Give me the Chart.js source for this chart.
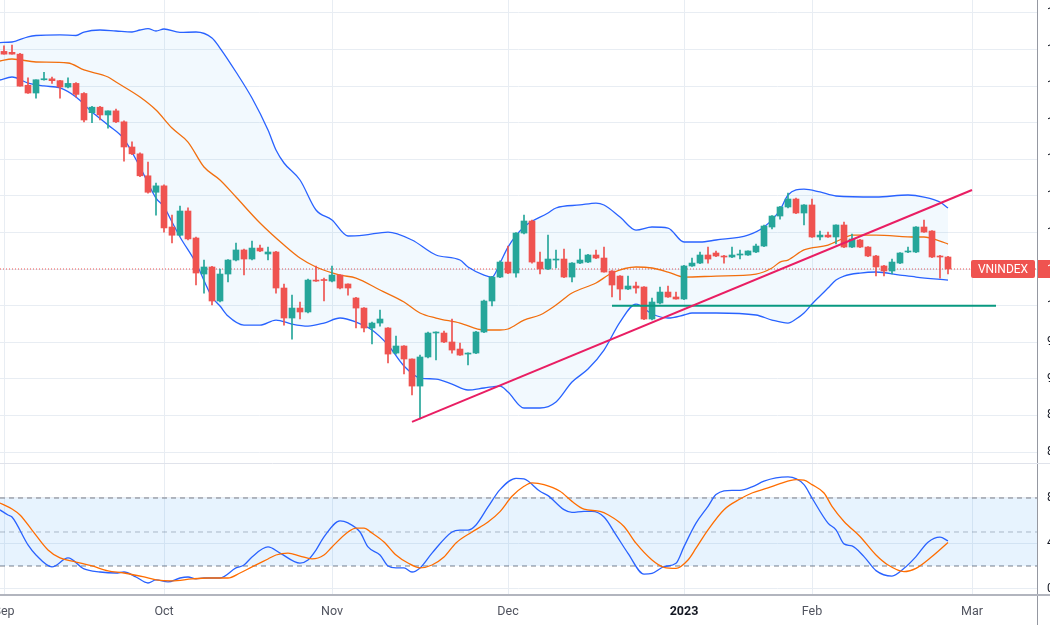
<!DOCTYPE html>
<html>
<head>
<meta charset="utf-8">
<script src="https://cdn.jsdelivr.net/npm/chart.js@4.4.0/dist/chart.umd.min.js"></script>
<style>
  html, body { margin: 0; padding: 0; background: #fff; overflow: hidden; }
  #wrap { position: relative; width: 1050px; height: 630px; overflow: hidden; }
  #main { position: absolute; left: 0; top: 0; }
  #stoch { position: absolute; left: 0; top: 464px; }
</style>
</head>
<body>
<div id="wrap">
  <canvas id="main" width="1090" height="464"></canvas>
  <canvas id="stoch" width="1090" height="166"></canvas>
</div>
<script>
// nến ngày VNINDEX, chỉ số 0 = 05/09/2022
const opens = [1278,1277,1275,1241,1232.5,1247,1248,1246,1239,1243,1232,1211,1217,1208.5,1213,1201,1173.5,1166,1142,1124,
  1131,1086,1077,1103.5,1074,1034.6,1042.3,1005.1,1034.6,1049.9,1060.9,1051,1063,1056.5,1058.7,1019.3,986.5,997.4,993.1,1028,
  1028,1026.9,1033.5,1023.7,1008.4,997.4,975.6,981,975.6,948.2,955.9,941.7,912.1,943.9,970.1,970.1,960.3,952.6,947.1,948.2,
  971.2,1005.1,1031.3,1047.7,1035.7,1079.4,1092.6,1047.7,1040.1,1049.9,1051,1031.3,1046.6,1047.7,1055.4,1052.1,1037.9,1032.4,1018.2,1021.5,
  1020.4,985.4,1002.9,1014.9,1009.5,1007.3,1043.4,1046.6,1055.4,1057.6,1054.3,1053.2,1055.4,1055.4,1058.7,1065.2,1086,1098,1107.9,1116.6,
  1101.3,1110.1,1075.1,1077.2,1075.1,1088.2,1064.1,1071.8,1064.1,1054.3,1043.4,1037.9,1046.6,1058.7,1058.7,1086,1081.6,1054.3,1053.2];
const highs = [1284,1285,1276,1249,1247,1255,1250,1246.5,1249,1244,1233,1218,1218,1213,1215,1202,1179,1167,1157,1134,
  1132,1099,1109,1107,1075,1049.9,1043,1040.1,1050.5,1068.5,1062,1070.7,1066.3,1064.1,1059.5,1023.7,1011.6,1004,1029,1043.4,
  1030.2,1043.4,1034,1024,1009,998,982,995.2,976,966.8,956.5,942,946,971,971.5,972.3,985.4,959.2,948.5,972,
  1006,1032,1049,1065.2,1080,1099.1,1093.5,1058.7,1077.2,1060.9,1061.9,1047,1061.9,1056,1060.9,1064.1,1038.5,1033,1032.4,1025.9,
  1021,1008.4,1020.4,1021.5,1014.9,1044,1052.1,1058.7,1064.1,1059.8,1055,1064.1,1060.9,1060,1067.4,1088,1098.5,1108.5,1123.2,1117.5,
  1110.5,1116.6,1081.6,1080.5,1088.5,1091.5,1078.3,1072.5,1064.5,1055,1044,1051,1058,1064.1,1086.5,1093.7,1082,1055,1054];
const lows = [1275,1275,1240,1232,1227,1246.5,1243,1227,1238,1228,1201,1200,1203,1194,1200,1158,1165,1141,1123,1099,
  1080.5,1068.5,1076,1072,1022.6,1013.8,1000.7,1004,1025.9,1049,1033.5,1050,1059,1049.9,1013.8,978.8,963.5,985.4,992,1026.5,
  1005.1,1026,1018.2,1011.6,975.6,971.2,958.1,977.7,937.3,947,925.3,902.3,876.1,943,940.6,959.5,948.2,945.5,935.1,947.5,
  970.5,999.6,1030.5,1035,1031.3,1078.5,1046.5,1034.6,1039.5,1041.2,1030.5,1025.9,1046,1047,1051.5,1036.5,1009.5,1006.2,1017.5,1013.8,
  984.8,984.5,1002,1009,1007,1006.5,1043,1046,1046.6,1053.5,1046.6,1052.5,1051,1055,1058,1064.5,1083.8,1094.7,1107,1100.5,
  1088.2,1074.5,1071.8,1074.5,1067.4,1063.5,1063.5,1063.5,1053.5,1032.4,1032.4,1034.6,1046,1058,1058,1080,1052.5,1030.2,1034.6];
const closes = [1275,1275,1240,1232.5,1247,1248,1246,1239,1243,1231,1203,1217,1208.5,1213,1201,1173.5,1166,1142,1124,1131,
  1085,1077,1103.5,1073,1035.7,1042.3,1005.1,1034.6,1049.9,1060.9,1051,1063,1059.8,1058.7,1019.3,986.5,997.4,993.1,1028,1026.9,
  1027.5,1033.5,1019.3,1019.3,997.4,975.6,981,985.4,947.1,955.9,941.7,912.1,943.9,970.1,971.2,960.3,951.5,946,948.2,971.2,
  1005.1,1031.3,1047.7,1035.7,1079.4,1092.6,1047.7,1040.1,1051,1051,1031.3,1046.6,1049.9,1055.4,1052.1,1036.8,1022.6,1018.2,1021.5,1019.3,
  985.4,1004,1014.9,1009.5,1007.3,1043.4,1046.6,1055.4,1051,1054.3,1053.2,1055.4,1056.5,1059.8,1065.2,1087.1,1098,1107.9,1116.6,1101.3,
  1110.1,1075.1,1077.2,1075.1,1088.2,1064.1,1072.9,1064.1,1054.3,1042.3,1037.9,1047.7,1057.6,1059.8,1086,1080.5,1053.2,1053.2,1040.1];

// Bollinger Bands
const bbUpperIdx = [-0.5,1,3,4,7,9,10,12,14,16,17,18,19,20,22,24,26,27,29,31,33,34,35,37,39,41,43,45,48,51,54,57,58,60,61,62,63,65,68,69,72,74,75,77,79,81,83,85,87,89,93,95,97,98,100,102,104,109,113,115,117,118];
const bbUpper = [1287.7,1288.3,1294,1295.4,1296,1295.4,1299.2,1301.4,1300.3,1299.2,1301.4,1303,1300.3,1302.5,1298.7,1299.2,1292.7,1281.7,1255.5,1227,
  1192,1170.2,1156,1137.4,1104.6,1093.7,1076.2,1077.2,1080.5,1071.8,1055.4,1049.9,1042.3,1033.5,1031.3,1046.6,1064.1,1086,1101.3,1106.8,
  1110.1,1112.2,1110.1,1096.9,1082.7,1086,1084.9,1069.6,1069.6,1071.8,1077.2,1086,1104.6,1121,1127.5,1124.3,1119.9,1118.8,1121,1118.8,1113.3,1106.8];
const bbBasisIdx = [-0.5,1,4,8,10,13,14,17,19,21,23,25,27,29,32,35,37,39,42,44,47,50,52,54,57,60,62,63,65,67,69,71,74,76,79,81,83,85,89,94,96,97,98,100,103,105,106,109,114,115,117,118];
const bbBasis = [1267.5,1269.7,1266.4,1265.3,1257.7,1250,1244.5,1228.1,1213.9,1194.2,1178.9,1151.6,1137.4,1118.8,1090.4,1066.3,1052.1,1042.3,1033.5,1030.2,
  1017.1,1004,992,986.5,981,973.4,973.4,974.5,984.3,989.8,1000.7,1013.8,1024.8,1035.7,1042.3,1041.2,1036.8,1031.3,1032.4,1034.6,
  1041.2,1047.7,1049.9,1060.9,1066.3,1074,1077.2,1077.2,1075.1,1075.1,1070.7,1067.4];
const bbLowerIdx = [-0.5,1,3,5,7,9,11,13,15,17,19,20,21,22,24,26,27,28,30,32,34,36,38,40,42,44,46,48,50,52,54,56,58,60,62,63,65,67,69,71,73,75,77,79,81,83,85,86,89,94,96,98,99,100,101,102,103,104,105,107,109,112,114,118];
const bbLower = [1246.7,1250,1243.4,1240.2,1238,1228.1,1211.7,1197.5,1182.2,1151.6,1117.7,1107.9,1091.5,1075.1,1046.6,1009.5,999.6,988.7,978.8,978.8,
  984.3,979.9,977.7,981,986.5,982.1,973.4,957,934,920.9,919.8,914.3,907.8,910,912.1,905.6,888.1,888.1,894.7,916.5,
  930.7,951.5,982.1,1001.8,990.9,986.5,989.8,992,992,989.8,984.3,981,985.4,992,1001.8,1010.6,1019.3,1028,1032.4,1035.7,1036.8,1033.5,1031.3,1028];

// Stochastic %K / %D
const stochKIdx = [-0.5,0.5,1,3,4,6,8,10,12,14,15,16.5,18,19,20.5,22,23,24,25,27,29,30,31,33,34.5,37,38,39,40,42,43,44.5,45.5,47,48,49,50,51,52,53.5,
  56,57,58,59,60.5,62,64,65,67,68,70,71,72.5,73.5,75,76.5,78,80,81,82.5,84,85,86.5,88,89,91,92,93.5,95,96.5,98,100,101,103,104,105,106,107.5,109,111,112.5,114,115.5,117,118];
const stochK = [69.5,65,63.2,38.6,29.7,19.2,27.1,17.4,14.7,13.8,14.7,10.3,5,7.7,5.9,9.4,10.3,8.6,9.4,9.4,18.3,20.9,28,36.8,31.4,22.6,25.3,34.1,45.6,59.8,
  58,50,36.8,29.7,20,18.3,18.3,14.7,18.3,31.4,50,51.7,51.7,56.2,72.1,87.4,97.4,96.8,85.9,82.1,69.7,67.3,68.2,68.2,63.2,47.5,31.2,12.9,13.5,19.4,
  22.4,37.1,57.8,72.6,83,86.8,86.8,89.8,94.8,97.7,98.6,91.8,80,57.8,51.9,39.5,37.7,28.3,15.9,11.1,17.9,28.3,41,45.4,42.2];
const stochDIdx = [-0.5,1,2,3.5,5.5,7,9,11,13,15,17.5,19,21,23.5,25.5,28,29.5,31,33,34,35.5,37,38.5,40,41,43,44,45,46,47.5,49,50.5,52,53.5,55,56.5,58.5,60.5,62,63.5,
  65,66,67.5,69.5,71,72.5,74.5,75.5,77.5,79,81,82.5,84,85.5,86.5,88,90,92,93.5,95.5,97,99,100,101,102.5,103.5,105,107,109,110.5,112.5,114,116,118];
const stochD = [75.6,70.3,65,51.7,34.1,27.1,23.5,20,15.6,13.8,10.3,7.7,6.8,8.6,9.4,9.4,13.8,19.2,26.2,29.7,31.4,28.8,26.2,29.7,36.8,50,53.5,53.5,49.1,41.2,
  29.7,22.6,18.3,20.9,27.9,40.3,50,58.8,68,81.5,90.3,93.3,91.8,85.9,77,70.2,68.2,65.2,54.9,40.1,25.3,18.8,17.9,25.3,35.7,51.9,69.7,79.1,84.4,88.9,
  92.7,96.3,95.7,91.8,84.4,72.6,59.3,46,29.7,20.9,15,17.9,28.3,40.7];

// đường xu hướng và hỗ trợ
const trendIdx = [51, 121];
const trendVal = [873, 1126.5];
const supportIdx = [76, 124];
const supportVal = [1000, 1000];

const monthIdx = [0, 20, 41, 63, 85, 101, 121];
const monthLbl = ['Sep', 'Oct', 'Nov', 'Dec', '2023', 'Feb', 'Mar'];
const priceTicks = [840, 880, 920, 960, 1000, 1040, 1080, 1120, 1160, 1200, 1240, 1280, 1320];
const stochTicks = [0, 40, 80];
const stochLevels = [80, 50, 20];

const UP = '#26a69a';
const DOWN = '#ef5350';
const GRID = '#e8edf3';
const X_MIN = -0.5, X_MAX = 129.125;
const AXIS_W = 53;
const LW = 1.3;

function pts(idx, vals) {
  return idx.map((x, i) => ({ x: x, y: vals[i] }));
}
function flat(v) {
  return [{ x: X_MIN, y: v }, { x: X_MAX, y: v }];
}

const colors = opens.map((o, i) => closes[i] >= o ? UP : DOWN);
const bodies = opens.map((o, i) => ({ x: i, y: [o, closes[i]] }));
const wicks = lows.map((l, i) => ({ x: i, y: [l, highs[i]] }));
const lastClose = closes[closes.length - 1];

const monthTicks = s => { s.ticks = monthIdx.map(v => ({ value: v })); };

// nhãn giá cuối + đường phân cách
const priceTag = {
  id: 'priceTag',
  afterDraw(chart) {
    const { ctx, chartArea } = chart;
    const y = Math.round(chart.scales.y.getPixelForValue(lastClose));
    ctx.save();
    ctx.fillStyle = colors[colors.length - 1];
    ctx.beginPath();
    ctx.roundRect(chartArea.right - 66, y - 9, 64, 18, 2);
    ctx.fill();
    ctx.fillRect(chartArea.right + 1, y - 9, 60, 18);
    ctx.fillStyle = '#fff';
    ctx.font = '12px Roboto';
    ctx.textBaseline = 'middle';
    ctx.textAlign = 'center';
    ctx.fillText('VNINDEX', chartArea.right - 34, y + 1);
    ctx.textAlign = 'left';
    ctx.fillText(lastClose.toFixed(2), chartArea.right + 10, y + 1);
    ctx.strokeStyle = '#e0e3eb';
    ctx.lineWidth = 1;
    ctx.beginPath();
    ctx.moveTo(0, chart.height - 0.5);
    ctx.lineTo(chart.width, chart.height - 0.5);
    ctx.stroke();
    ctx.restore();
  }
};

new Chart(document.getElementById('main'), {
  type: 'bar',
  data: {
    datasets: [
      { type: 'line', data: flat(lastClose), borderColor: DOWN, borderWidth: 1, borderDash: [1, 2], pointRadius: 0, order: 9 },
      { type: 'line', data: pts(bbUpperIdx, bbUpper), borderColor: '#2962ff', borderWidth: LW, pointRadius: 0,
        cubicInterpolationMode: 'monotone', fill: 3, backgroundColor: 'rgba(33,150,243,0.06)', order: 8 },
      { type: 'line', data: pts(bbBasisIdx, bbBasis), borderColor: '#ff6d00', borderWidth: LW, pointRadius: 0,
        cubicInterpolationMode: 'monotone', order: 8 },
      { type: 'line', data: pts(bbLowerIdx, bbLower), borderColor: '#2962ff', borderWidth: LW, pointRadius: 0,
        cubicInterpolationMode: 'monotone', order: 8 },
      { data: wicks, backgroundColor: colors, barThickness: 1, grouped: false, order: 5 },
      { data: bodies, backgroundColor: colors, barThickness: 6, grouped: false, minBarLength: 1, order: 4 },
      { type: 'line', data: pts(trendIdx, trendVal), borderColor: '#e91e63', borderWidth: 2, pointRadius: 0, order: 1 },
      { type: 'line', data: pts(supportIdx, supportVal), borderColor: '#089981', borderWidth: 2, pointRadius: 0, order: 1 }
    ]
  },
  options: {
    responsive: false,
    animation: false,
    events: [],
    layout: { padding: 0 },
    plugins: { legend: { display: false }, tooltip: { enabled: false } },
    scales: {
      x: {
        type: 'linear', min: X_MIN, max: X_MAX, offset: false,
        grid: { color: GRID, drawTicks: false, offset: false },
        border: { display: false },
        ticks: { display: false },
        afterBuildTicks: monthTicks,
        afterFit: s => { s.height = 0; s.paddingLeft = 0; s.paddingRight = 0; }
      },
      y: {
        type: 'linear', position: 'right', min: 826.9, max: 1334.2,
        grid: { color: GRID, drawTicks: false },
        border: { color: '#9598a1', width: 1 },
        ticks: { padding: 10, color: '#131722', font: { family: 'Roboto', size: 12 }, callback: v => v.toFixed(2) },
        afterBuildTicks: s => { s.ticks = priceTicks.map(v => ({ value: v })); },
        afterFit: s => { s.width = AXIS_W; s.paddingTop = 0; s.paddingBottom = 0; }
      }
    }
  },
  plugins: [priceTag]
});

// khung dưới: đường viền
const paneFrame = {
  id: 'paneFrame',
  afterDraw(chart) {
    const { ctx, chartArea } = chart;
    ctx.save();
    ctx.strokeStyle = '#9598a1';
    ctx.lineWidth = 1;
    ctx.beginPath();
    ctx.moveTo(chartArea.right + 0.5, chartArea.bottom);
    ctx.lineTo(chartArea.right + 0.5, chart.height - 5);
    ctx.stroke();
    ctx.strokeStyle = '#b2b5be';
    ctx.lineWidth = 2;
    ctx.beginPath();
    ctx.moveTo(0, chartArea.bottom);
    ctx.lineTo(chart.width, chartArea.bottom);
    ctx.stroke();
    ctx.restore();
  }
};

new Chart(document.getElementById('stoch'), {
  type: 'line',
  data: {
    datasets: [
      { data: flat(stochLevels[0]), borderColor: '#787b86', borderWidth: 1, borderDash: [5, 4], pointRadius: 0,
        fill: 2, backgroundColor: 'rgba(33,150,243,0.11)', order: 5 },
      { data: flat(stochLevels[1]), borderColor: 'rgba(120,123,134,0.5)', borderWidth: 1, borderDash: [5, 4], pointRadius: 0, order: 5 },
      { data: flat(stochLevels[2]), borderColor: '#787b86', borderWidth: 1, borderDash: [5, 4], pointRadius: 0, order: 5 },
      { data: pts(stochKIdx, stochK), borderColor: '#2962ff', borderWidth: LW, pointRadius: 0, cubicInterpolationMode: 'monotone', order: 2 },
      { data: pts(stochDIdx, stochD), borderColor: '#ff6d00', borderWidth: LW, pointRadius: 0, cubicInterpolationMode: 'monotone', order: 1 }
    ]
  },
  options: {
    responsive: false,
    animation: false,
    events: [],
    layout: { padding: 0 },
    plugins: { legend: { display: false }, tooltip: { enabled: false } },
    scales: {
      x: {
        type: 'linear', min: X_MIN, max: X_MAX, offset: false,
        grid: { color: GRID, drawTicks: false },
        border: { display: false },
        ticks: {
          padding: 9, autoSkip: false, maxRotation: 0,
          color: c => c.tick && c.tick.value === 85 ? '#131722' : '#50535e',
          font: c => ({ family: 'Roboto', size: 12.5, weight: c.tick && c.tick.value === 85 ? 'bold' : 'normal' }),
          callback: (v, i) => monthLbl[i]
        },
        afterBuildTicks: monthTicks,
        afterFit: s => { s.height = 35; s.paddingLeft = 0; s.paddingRight = 0; }
      },
      y: {
        type: 'linear', position: 'right', min: -5.6, max: 110,
        grid: { color: GRID, drawTicks: false },
        border: { color: '#9598a1', width: 1 },
        ticks: { padding: 10, color: '#131722', font: { family: 'Roboto', size: 12 }, callback: v => v.toFixed(2) },
        afterBuildTicks: s => { s.ticks = stochTicks.map(v => ({ value: v })); },
        afterFit: s => { s.width = AXIS_W; s.paddingTop = 0; s.paddingBottom = 0; }
      }
    }
  },
  plugins: [paneFrame]
});
</script>
</body>
</html>
